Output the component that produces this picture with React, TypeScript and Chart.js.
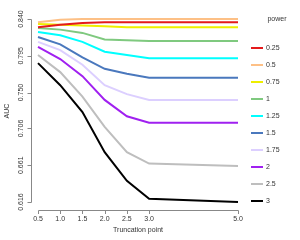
import React, { useEffect, useRef } from "react";
import { Chart, registerables } from "chart.js";

Chart.register(...registerables);

const truncation = [0.5, 1.0, 1.5, 2.0, 2.5, 3.0, 5.0];
const xTickValues = [0.5, 1.0, 1.5, 2.0, 2.5, 3.0, 5.0];
const yTickValues = [0.616, 0.661, 0.706, 0.750, 0.795, 0.840];
const powers = ["0.25", "0.5", "0.75", "1", "1.25", "1.5", "1.75", "2", "2.5", "3"];
const colors = ["#E41A1C", "#FDC086", "#EEEE00", "#7FC97F", "#00FFFF", "#4A78BD", "#DCCFFF", "#A020F0", "#BEBEBE", "#000000"];

const auc025 = [0.830, 0.833, 0.835, 0.836, 0.836, 0.836, 0.836];
const auc05 = [0.836, 0.839, 0.840, 0.840, 0.840, 0.840, 0.840];
const auc075 = [0.834, 0.833, 0.832, 0.831, 0.830, 0.830, 0.830];
const auc1 = [0.829, 0.827, 0.823, 0.815, 0.814, 0.813, 0.813];
const auc125 = [0.824, 0.820, 0.812, 0.800, 0.796, 0.792, 0.792];
const auc15 = [0.818, 0.809, 0.793, 0.779, 0.773, 0.768, 0.768];
const auc175 = [0.812, 0.802, 0.784, 0.759, 0.748, 0.741, 0.741];
const auc2 = [0.806, 0.791, 0.770, 0.741, 0.721, 0.713, 0.713];
const auc25 = [0.796, 0.775, 0.745, 0.708, 0.677, 0.663, 0.660];
const auc3 = [0.786, 0.759, 0.726, 0.677, 0.642, 0.620, 0.616];

const series = [auc025, auc05, auc075, auc1, auc125, auc15, auc175, auc2, auc25, auc3];

const FONT = "Liberation Sans, Arial, sans-serif";

const rPlot = {
  id: "rPlot",
  afterDraw(chart: any) {
    const ctx = chart.ctx;
    const xs = chart.scales.x;
    const ys = chart.scales.y;
    ctx.save();
    ctx.strokeStyle = "#888888";
    ctx.lineWidth = 1;
    ctx.fillStyle = "#333333";
    ctx.font = `7px ${FONT}`;

    // y axis
    const ax = 31;
    const yTop = ys.getPixelForValue(yTickValues[yTickValues.length - 1]);
    const yBot = ys.getPixelForValue(yTickValues[0]);
    ctx.beginPath();
    ctx.moveTo(ax + 0.5, Math.round(yTop) + 0.5);
    ctx.lineTo(ax + 0.5, Math.round(yBot) + 0.5);
    yTickValues.forEach((v) => {
      const p = Math.round(ys.getPixelForValue(v)) + 0.5;
      ctx.moveTo(ax + 0.5, p);
      ctx.lineTo(ax - 3.5, p);
    });
    ctx.stroke();
    yTickValues.forEach((v) => {
      const p = ys.getPixelForValue(v);
      ctx.save();
      ctx.translate(21, p);
      ctx.rotate(-Math.PI / 2);
      ctx.textAlign = "center";
      ctx.textBaseline = "middle";
      ctx.fillText(v.toFixed(3), 0, 0);
      ctx.restore();
    });
    ctx.save();
    ctx.translate(7, 111);
    ctx.rotate(-Math.PI / 2);
    ctx.textAlign = "center";
    ctx.textBaseline = "middle";
    ctx.fillText("AUC", 0, 0);
    ctx.restore();

    // x axis
    const ay = 210;
    const xL = xs.getPixelForValue(xTickValues[0]);
    const xR = xs.getPixelForValue(xTickValues[xTickValues.length - 1]);
    ctx.beginPath();
    ctx.moveTo(Math.round(xL) + 0.5, ay + 0.5);
    ctx.lineTo(Math.round(xR) + 0.5, ay + 0.5);
    xTickValues.forEach((v) => {
      const p = Math.round(xs.getPixelForValue(v)) + 0.5;
      ctx.moveTo(p, ay + 0.5);
      ctx.lineTo(p, ay + 4);
    });
    ctx.stroke();
    ctx.textAlign = "center";
    ctx.textBaseline = "middle";
    xTickValues.forEach((v) => {
      ctx.fillText(v.toFixed(1), xs.getPixelForValue(v), 219.5);
    });
    ctx.fillText("Truncation point", (xL + xR) / 2, 230.5);

    // legend
    ctx.textAlign = "center";
    ctx.fillText("power", 277, 19.5);
    ctx.textAlign = "left";
    powers.forEach((p, i) => {
      const y = 48 + i * 17;
      ctx.strokeStyle = colors[i];
      ctx.lineWidth = 2;
      ctx.beginPath();
      ctx.moveTo(251, y);
      ctx.lineTo(263, y);
      ctx.stroke();
      ctx.fillText(p, 266, y + 0.5);
    });
    ctx.restore();
  },
};

export default function App() {
  const ref = useRef<HTMLCanvasElement | null>(null);
  useEffect(() => {
    document.body.style.margin = "0";
    const chart = new Chart(ref.current as HTMLCanvasElement, {
      type: "line",
      data: {
        datasets: series.map((s, i) => ({
          label: powers[i],
          data: s.map((v, j) => ({ x: truncation[j], y: v })),
          borderColor: colors[i],
          backgroundColor: colors[i],
          borderWidth: 2,
          pointRadius: 0,
          tension: 0,
          fill: false,
          clip: false as any,
        })),
      },
      options: {
        animation: false,
        responsive: false,
        layout: { padding: { left: 38, right: 62, top: 19, bottom: 38 } },
        plugins: { legend: { display: false }, tooltip: { enabled: false } },
        scales: {
          x: { type: "linear", display: false, min: 0.5, max: 5.0 },
          y: { type: "linear", display: false, min: 0.616, max: 0.840 },
        },
      },
      plugins: [rPlot],
    });
    return () => chart.destroy();
  }, []);
  return (
    <div style={{ width: 300, height: 240 }}>
      <canvas ref={ref} width={300} height={240} />
    </div>
  );
}
